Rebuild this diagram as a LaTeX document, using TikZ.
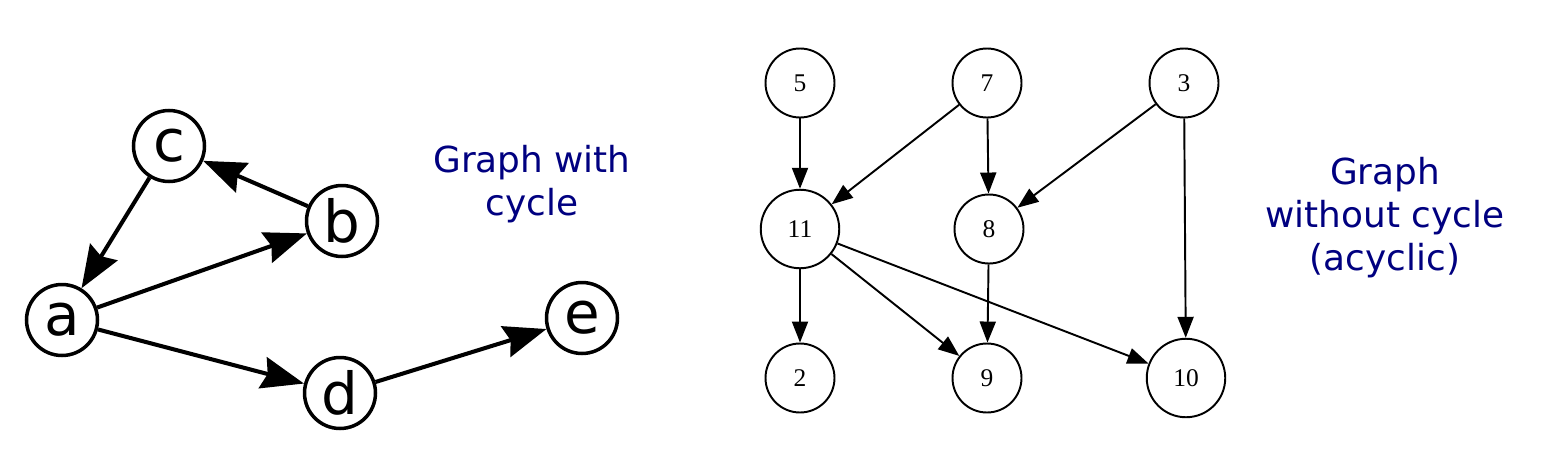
\documentclass[tikz,border=0pt]{standalone}
\usepackage{fontspec}
\setmainfont{Liberation Serif}
\newfontfamily\labfont{DejaVu Sans}
\usetikzlibrary{arrows.meta}
\definecolor{navytext}{RGB}{0,0,128}
\begin{document}
\begin{tikzpicture}[x=0.02cm,y=-0.02cm,
 lnode/.style={circle, draw, line width=2pt, minimum size=1.42cm, inner sep=0pt, font=\labfont\fontsize{33}{33}\selectfont},
 ledge/.style={line width=2.3pt, -{Stealth[length=0.85cm,width=0.64cm,inset=0.1cm]}},
 rnode/.style={circle, draw, line width=1.1pt, minimum size=1.38cm, inner sep=0pt, font=\fontsize{14.5}{14.5}\selectfont},
 bignode/.style={rnode, minimum size=1.57cm},
 redge/.style={line width=1.1pt, -{Triangle[length=0.42cm,width=0.32cm]}},
 caption/.style={text=navytext, align=center, font=\labfont\fontsize{20.4}{24.4}\selectfont, anchor=base}]
\useasboundingbox (0,0) rectangle (1562,470);
% left graph
\node[lnode] (c) at (169,146) {c};
\node[lnode] (b) at (342,221) {b};
\node[lnode] (a) at (62,320) {a};
\node[lnode] (d) at (340,393) {d};
\node[lnode] (e) at (582,318) {e};
\draw[ledge] (c) -- (a);
\draw[ledge] (b) -- (c);
\draw[ledge] (a) -- (b);
\draw[ledge] (a) -- (d);
\draw[ledge] (d) -- (e);
\node[caption] (t1) at (532,215) {Graph with\\cycle};
% right graph
\node[rnode] (n5) at (800,83) {5};
\node[rnode] (n7) at (987,83) {7};
\node[rnode] (n3) at (1184,83) {3};
\node[bignode] (n11) at (800,229) {11};
\node[rnode] (n8) at (989,229) {8};
\node[rnode] (n2) at (800,378) {2};
\node[rnode] (n9) at (987,378) {9};
\node[bignode] (n10) at (1186,378) {10};
\draw[redge] (n5) -- (n11);
\draw[redge] (n7) -- (n11);
\draw[redge] (n7) -- (n8);
\draw[redge] (n3) -- (n8);
\draw[redge] (n3) -- (n10);
\draw[redge] (n11) -- (n2);
\draw[redge] (n11) -- (n9);
\draw[redge] (n11) -- (n10);
\draw[redge] (n8) -- (n9);
\node[caption] (t2) at (1385,270) {Graph\\without cycle\\(acyclic)};
\end{tikzpicture}
\end{document}
